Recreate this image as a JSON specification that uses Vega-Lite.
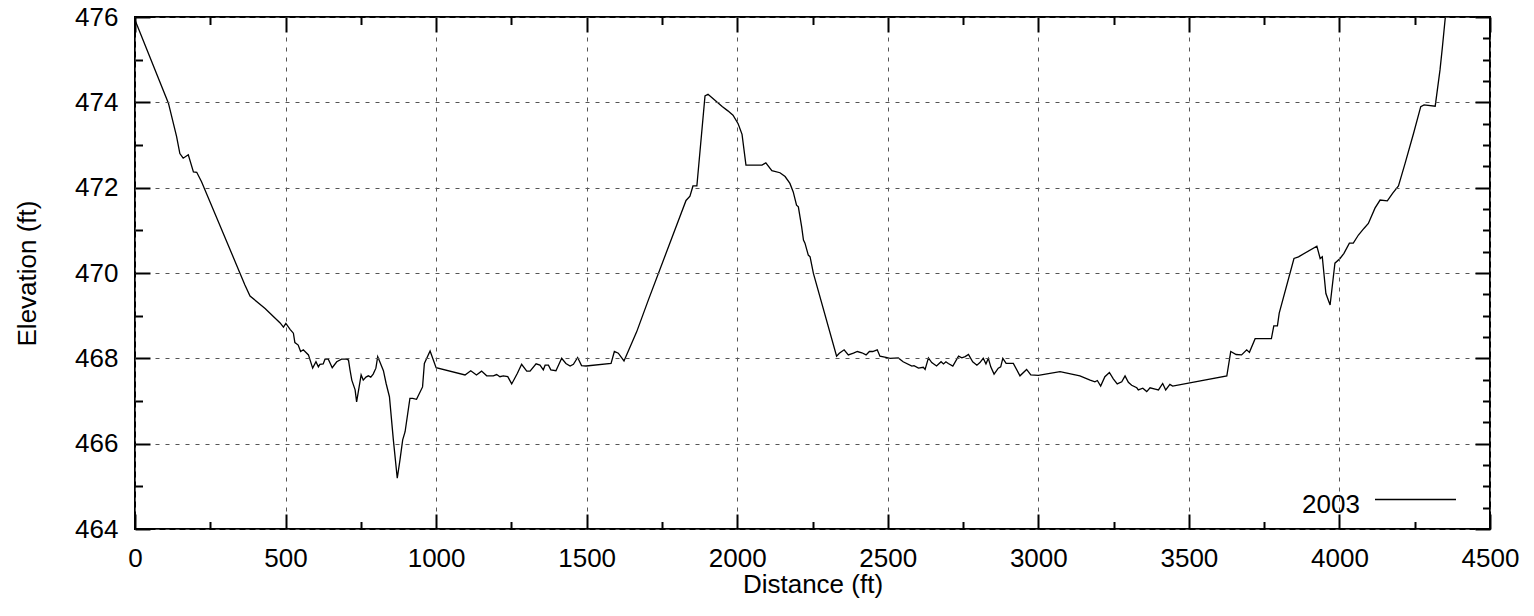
{
  "$schema": "https://vega.github.io/schema/vega-lite/v6.json",
  "width": 1355,
  "height": 512,
  "autosize": {"type": "none"},
  "padding": {"left": 135, "top": 17, "right": 44, "bottom": 87},
  "background": "white",
  "config": {
    "font": "Liberation Sans",
    "view": {"stroke": "black", "strokeWidth": 2},
    "axis": {"domain": false, "labelColor": "black", "titleColor": "black", "labelFont": "Liberation Sans", "titleFont": "Liberation Sans", "labelFontSize": 26, "titleFontSize": 26, "titleFontWeight": "normal"}
  },
  "data": {"values": [
    {"d":0,"e":475.93,"year":"2003"},{"d":111,"e":473.98,"year":"2003"},{"d":138,"e":473.2,"year":"2003"},{"d":149,"e":472.8,"year":"2003"},{"d":160,"e":472.69,"year":"2003"},{"d":177,"e":472.77,"year":"2003"},{"d":194,"e":472.37,"year":"2003"},{"d":205,"e":472.36,"year":"2003"},{"d":221,"e":472.14,"year":"2003"},{"d":349,"e":469.99,"year":"2003"},{"d":365,"e":469.72,"year":"2003"},{"d":382,"e":469.46,"year":"2003"},{"d":432,"e":469.17,"year":"2003"},{"d":482,"e":468.83,"year":"2003"},{"d":493,"e":468.73,"year":"2003"},{"d":501,"e":468.82,"year":"2003"},{"d":515,"e":468.68,"year":"2003"},{"d":526,"e":468.59,"year":"2003"},{"d":531,"e":468.37,"year":"2003"},{"d":542,"e":468.31,"year":"2003"},{"d":550,"e":468.16,"year":"2003"},{"d":559,"e":468.2,"year":"2003"},{"d":576,"e":468.08,"year":"2003"},{"d":590,"e":467.77,"year":"2003"},{"d":601,"e":467.92,"year":"2003"},{"d":609,"e":467.8,"year":"2003"},{"d":614,"e":467.86,"year":"2003"},{"d":625,"e":467.87,"year":"2003"},{"d":631,"e":467.98,"year":"2003"},{"d":642,"e":467.98,"year":"2003"},{"d":655,"e":467.78,"year":"2003"},{"d":670,"e":467.92,"year":"2003"},{"d":686,"e":467.98,"year":"2003"},{"d":703,"e":467.98,"year":"2003"},{"d":709,"e":467.96,"year":"2003"},{"d":714,"e":467.73,"year":"2003"},{"d":720,"e":467.49,"year":"2003"},{"d":731,"e":467.26,"year":"2003"},{"d":736,"e":466.98,"year":"2003"},{"d":751,"e":467.61,"year":"2003"},{"d":758,"e":467.49,"year":"2003"},{"d":767,"e":467.56,"year":"2003"},{"d":775,"e":467.59,"year":"2003"},{"d":783,"e":467.56,"year":"2003"},{"d":791,"e":467.63,"year":"2003"},{"d":800,"e":467.77,"year":"2003"},{"d":806,"e":468.04,"year":"2003"},{"d":814,"e":467.9,"year":"2003"},{"d":825,"e":467.71,"year":"2003"},{"d":834,"e":467.41,"year":"2003"},{"d":845,"e":467.1,"year":"2003"},{"d":858,"e":466.09,"year":"2003"},{"d":871,"e":465.19,"year":"2003"},{"d":880,"e":465.62,"year":"2003"},{"d":889,"e":466.09,"year":"2003"},{"d":897,"e":466.28,"year":"2003"},{"d":913,"e":467.06,"year":"2003"},{"d":922,"e":467.06,"year":"2003"},{"d":935,"e":467.04,"year":"2003"},{"d":955,"e":467.33,"year":"2003"},{"d":961,"e":467.88,"year":"2003"},{"d":980,"e":468.17,"year":"2003"},{"d":1000,"e":467.78,"year":"2003"},{"d":1096,"e":467.61,"year":"2003"},{"d":1115,"e":467.71,"year":"2003"},{"d":1134,"e":467.61,"year":"2003"},{"d":1151,"e":467.7,"year":"2003"},{"d":1168,"e":467.59,"year":"2003"},{"d":1190,"e":467.59,"year":"2003"},{"d":1201,"e":467.62,"year":"2003"},{"d":1212,"e":467.57,"year":"2003"},{"d":1223,"e":467.59,"year":"2003"},{"d":1238,"e":467.57,"year":"2003"},{"d":1251,"e":467.4,"year":"2003"},{"d":1270,"e":467.65,"year":"2003"},{"d":1284,"e":467.86,"year":"2003"},{"d":1301,"e":467.7,"year":"2003"},{"d":1312,"e":467.7,"year":"2003"},{"d":1332,"e":467.87,"year":"2003"},{"d":1345,"e":467.84,"year":"2003"},{"d":1356,"e":467.73,"year":"2003"},{"d":1362,"e":467.84,"year":"2003"},{"d":1373,"e":467.84,"year":"2003"},{"d":1381,"e":467.73,"year":"2003"},{"d":1398,"e":467.71,"year":"2003"},{"d":1417,"e":468.0,"year":"2003"},{"d":1431,"e":467.88,"year":"2003"},{"d":1445,"e":467.82,"year":"2003"},{"d":1456,"e":467.86,"year":"2003"},{"d":1470,"e":468.02,"year":"2003"},{"d":1483,"e":467.83,"year":"2003"},{"d":1498,"e":467.82,"year":"2003"},{"d":1581,"e":467.88,"year":"2003"},{"d":1592,"e":468.16,"year":"2003"},{"d":1605,"e":468.12,"year":"2003"},{"d":1624,"e":467.94,"year":"2003"},{"d":1666,"e":468.62,"year":"2003"},{"d":1705,"e":469.37,"year":"2003"},{"d":1830,"e":471.7,"year":"2003"},{"d":1843,"e":471.8,"year":"2003"},{"d":1853,"e":472.04,"year":"2003"},{"d":1866,"e":472.04,"year":"2003"},{"d":1893,"e":474.15,"year":"2003"},{"d":1903,"e":474.19,"year":"2003"},{"d":1926,"e":474.05,"year":"2003"},{"d":1950,"e":473.9,"year":"2003"},{"d":1969,"e":473.8,"year":"2003"},{"d":1986,"e":473.7,"year":"2003"},{"d":2003,"e":473.5,"year":"2003"},{"d":2016,"e":473.25,"year":"2003"},{"d":2029,"e":472.53,"year":"2003"},{"d":2082,"e":472.53,"year":"2003"},{"d":2095,"e":472.58,"year":"2003"},{"d":2115,"e":472.4,"year":"2003"},{"d":2142,"e":472.35,"year":"2003"},{"d":2159,"e":472.26,"year":"2003"},{"d":2175,"e":472.1,"year":"2003"},{"d":2186,"e":471.9,"year":"2003"},{"d":2197,"e":471.59,"year":"2003"},{"d":2203,"e":471.55,"year":"2003"},{"d":2214,"e":471.08,"year":"2003"},{"d":2220,"e":470.77,"year":"2003"},{"d":2225,"e":470.7,"year":"2003"},{"d":2236,"e":470.42,"year":"2003"},{"d":2242,"e":470.38,"year":"2003"},{"d":2253,"e":469.99,"year":"2003"},{"d":2330,"e":468.05,"year":"2003"},{"d":2339,"e":468.12,"year":"2003"},{"d":2355,"e":468.2,"year":"2003"},{"d":2369,"e":468.08,"year":"2003"},{"d":2386,"e":468.12,"year":"2003"},{"d":2399,"e":468.16,"year":"2003"},{"d":2414,"e":468.13,"year":"2003"},{"d":2428,"e":468.08,"year":"2003"},{"d":2439,"e":468.16,"year":"2003"},{"d":2450,"e":468.16,"year":"2003"},{"d":2465,"e":468.2,"year":"2003"},{"d":2474,"e":468.05,"year":"2003"},{"d":2494,"e":468.02,"year":"2003"},{"d":2507,"e":468.0,"year":"2003"},{"d":2535,"e":468.01,"year":"2003"},{"d":2551,"e":467.92,"year":"2003"},{"d":2580,"e":467.82,"year":"2003"},{"d":2587,"e":467.83,"year":"2003"},{"d":2602,"e":467.77,"year":"2003"},{"d":2618,"e":467.79,"year":"2003"},{"d":2624,"e":467.74,"year":"2003"},{"d":2635,"e":468.01,"year":"2003"},{"d":2646,"e":467.9,"year":"2003"},{"d":2662,"e":467.82,"year":"2003"},{"d":2677,"e":467.92,"year":"2003"},{"d":2685,"e":467.87,"year":"2003"},{"d":2693,"e":467.92,"year":"2003"},{"d":2701,"e":467.88,"year":"2003"},{"d":2716,"e":467.82,"year":"2003"},{"d":2735,"e":468.05,"year":"2003"},{"d":2746,"e":468.01,"year":"2003"},{"d":2757,"e":468.04,"year":"2003"},{"d":2768,"e":468.09,"year":"2003"},{"d":2782,"e":467.92,"year":"2003"},{"d":2796,"e":467.84,"year":"2003"},{"d":2806,"e":467.9,"year":"2003"},{"d":2817,"e":468.0,"year":"2003"},{"d":2826,"e":467.87,"year":"2003"},{"d":2834,"e":468.0,"year":"2003"},{"d":2842,"e":467.8,"year":"2003"},{"d":2853,"e":467.63,"year":"2003"},{"d":2867,"e":467.77,"year":"2003"},{"d":2875,"e":467.8,"year":"2003"},{"d":2882,"e":468.0,"year":"2003"},{"d":2893,"e":467.88,"year":"2003"},{"d":2917,"e":467.88,"year":"2003"},{"d":2939,"e":467.59,"year":"2003"},{"d":2961,"e":467.74,"year":"2003"},{"d":2975,"e":467.61,"year":"2003"},{"d":3000,"e":467.6,"year":"2003"},{"d":3072,"e":467.69,"year":"2003"},{"d":3138,"e":467.59,"year":"2003"},{"d":3172,"e":467.49,"year":"2003"},{"d":3188,"e":467.45,"year":"2003"},{"d":3196,"e":467.48,"year":"2003"},{"d":3207,"e":467.35,"year":"2003"},{"d":3221,"e":467.57,"year":"2003"},{"d":3236,"e":467.67,"year":"2003"},{"d":3249,"e":467.52,"year":"2003"},{"d":3262,"e":467.4,"year":"2003"},{"d":3277,"e":467.45,"year":"2003"},{"d":3288,"e":467.59,"year":"2003"},{"d":3299,"e":467.44,"year":"2003"},{"d":3310,"e":467.37,"year":"2003"},{"d":3327,"e":467.31,"year":"2003"},{"d":3332,"e":467.26,"year":"2003"},{"d":3347,"e":467.3,"year":"2003"},{"d":3360,"e":467.22,"year":"2003"},{"d":3371,"e":467.31,"year":"2003"},{"d":3388,"e":467.28,"year":"2003"},{"d":3399,"e":467.26,"year":"2003"},{"d":3413,"e":467.41,"year":"2003"},{"d":3423,"e":467.26,"year":"2003"},{"d":3437,"e":467.39,"year":"2003"},{"d":3446,"e":467.35,"year":"2003"},{"d":3626,"e":467.59,"year":"2003"},{"d":3639,"e":468.16,"year":"2003"},{"d":3657,"e":468.09,"year":"2003"},{"d":3675,"e":468.08,"year":"2003"},{"d":3692,"e":468.2,"year":"2003"},{"d":3701,"e":468.14,"year":"2003"},{"d":3720,"e":468.46,"year":"2003"},{"d":3774,"e":468.46,"year":"2003"},{"d":3782,"e":468.76,"year":"2003"},{"d":3794,"e":468.76,"year":"2003"},{"d":3800,"e":469.06,"year":"2003"},{"d":3849,"e":470.34,"year":"2003"},{"d":3864,"e":470.38,"year":"2003"},{"d":3925,"e":470.63,"year":"2003"},{"d":3936,"e":470.34,"year":"2003"},{"d":3943,"e":470.38,"year":"2003"},{"d":3955,"e":469.52,"year":"2003"},{"d":3969,"e":469.25,"year":"2003"},{"d":3985,"e":470.23,"year":"2003"},{"d":4002,"e":470.34,"year":"2003"},{"d":4015,"e":470.46,"year":"2003"},{"d":4033,"e":470.7,"year":"2003"},{"d":4046,"e":470.7,"year":"2003"},{"d":4063,"e":470.89,"year":"2003"},{"d":4082,"e":471.05,"year":"2003"},{"d":4096,"e":471.16,"year":"2003"},{"d":4118,"e":471.52,"year":"2003"},{"d":4135,"e":471.71,"year":"2003"},{"d":4159,"e":471.69,"year":"2003"},{"d":4177,"e":471.87,"year":"2003"},{"d":4196,"e":472.04,"year":"2003"},{"d":4218,"e":472.57,"year":"2003"},{"d":4246,"e":473.27,"year":"2003"},{"d":4270,"e":473.9,"year":"2003"},{"d":4281,"e":473.94,"year":"2003"},{"d":4318,"e":473.91,"year":"2003"},{"d":4334,"e":474.76,"year":"2003"},{"d":4342,"e":475.3,"year":"2003"},{"d":4351,"e":475.95,"year":"2003"},{"d":4356,"e":476.2,"year":"2003"}
  ]},
  "resolve": {"axis": {"x": "independent", "y": "independent"}},
  "layer": [
    {
      "mark": {"type": "line", "color": "black", "strokeWidth": 1.3, "clip": true},
      "encoding": {
        "x": {"field": "d", "type": "quantitative", "scale": {"domain": [0, 4500], "nice": false, "zero": false},
          "axis": {"orient": "bottom", "zindex": 2, "values": [0,250,500,750,1000,1250,1500,1750,2000,2250,2500,2750,3000,3250,3500,3750,4000,4250,4500], "format": "d", "labelExpr": "datum.value % 500 === 0 ? datum.label : ''", "title": "Distance (ft)", "grid": true, "gridDash": [4,6], "gridColor": "#555", "gridWidth": 1, "gridOpacity": {"condition": {"test": "datum.value % 500 === 0", "value": 1}, "value": 0}, "ticks": true, "tickColor": "black", "tickOpacity": 1, "tickWidth": 2, "tickSize": {"condition": {"test": "datum.value % 500 === 0", "value": -15}, "value": -7.5}, "labelPadding": 31, "titlePadding": -7, "labelFlush": false, "labelOverlap": false}},
        "y": {"field": "e", "type": "quantitative", "scale": {"domain": [464, 476], "nice": false, "zero": false},
          "axis": {"orient": "left", "zindex": 2, "values": [464,464.5,465,465.5,466,466.5,467,467.5,468,468.5,469,469.5,470,470.5,471,471.5,472,472.5,473,473.5,474,474.5,475,475.5,476], "format": "d", "labelExpr": "datum.value % 2 === 0 ? datum.label : ''", "title": "Elevation (ft)", "grid": true, "gridDash": [4,6], "gridColor": "#555", "gridWidth": 1, "gridOpacity": {"condition": {"test": "datum.value % 2 === 0", "value": 1}, "value": 0}, "ticks": true, "tickColor": "black", "tickOpacity": 1, "tickWidth": 2, "tickSize": {"condition": {"test": "datum.value % 2 === 0", "value": -15}, "value": -7.5}, "labelPadding": 32, "titlePadding": 34, "labelFlush": false, "labelOverlap": false}},
        "color": {"field": "year", "type": "nominal", "scale": {"range": ["black"]},
          "legend": {"orient": "none", "legendX": 1167, "legendY": 441, "title": "2003", "titleOrient": "left", "titleAnchor": "end", "titleFontSize": 26, "titleFont": "Liberation Sans", "titleFontWeight": "normal", "titleColor": "black", "titleBaseline": "middle", "titlePadding": 14, "symbolType": "stroke", "symbolSize": 6561, "symbolStrokeWidth": 1.3, "symbolStrokeColor": "black", "labelExpr": "''", "labelOffset": 0, "padding": 0}}
      }
    },
    {
      "mark": {"type": "line", "strokeOpacity": 0},
      "encoding": {
        "x": {"field": "d", "type": "quantitative", "scale": {"domain": [0, 4500], "nice": false, "zero": false},
          "axis": {"orient": "top", "zindex": 2, "values": [0,250,500,750,1000,1250,1500,1750,2000,2250,2500,2750,3000,3250,3500,3750,4000,4250,4500], "title": null, "labels": false, "grid": false, "ticks": true, "tickColor": "black", "tickOpacity": 1, "tickWidth": 2, "tickSize": {"condition": {"test": "datum.value % 500 === 0", "value": -15}, "value": -7.5}}},
        "y": {"field": "e", "type": "quantitative", "scale": {"domain": [464, 476], "nice": false, "zero": false},
          "axis": {"orient": "right", "zindex": 2, "values": [464,464.5,465,465.5,466,466.5,467,467.5,468,468.5,469,469.5,470,470.5,471,471.5,472,472.5,473,473.5,474,474.5,475,475.5,476], "title": null, "labels": false, "grid": false, "ticks": true, "tickColor": "black", "tickOpacity": 1, "tickWidth": 2, "tickSize": {"condition": {"test": "datum.value % 2 === 0", "value": -15}, "value": -7.5}}}
      }
    }
  ]
}
